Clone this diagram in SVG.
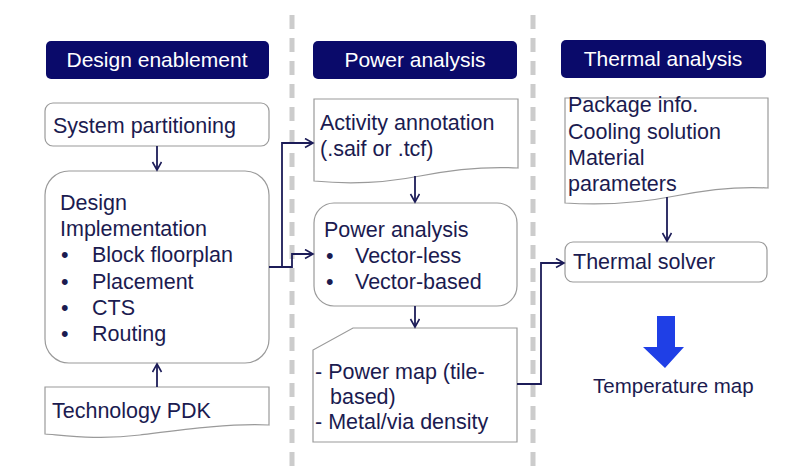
<svg xmlns="http://www.w3.org/2000/svg" width="795" height="472" viewBox="0 0 795 472">
<defs>
<marker id="arr" markerUnits="userSpaceOnUse" markerWidth="12" markerHeight="12" refX="9" refY="5" orient="auto">
<path d="M1,0.5 L9,5 L1,9.5" fill="none" stroke="#1c1c58" stroke-width="1.6"/>
</marker>
<style>
text{font-family:"Liberation Sans",Arial,sans-serif;font-size:21.5px;fill:#1b1b50}
.hdr{fill:#0a0a6a}
.htx{fill:#ffffff;font-size:21px;text-anchor:middle}
.box{fill:#ffffff;stroke:#9a9a9a;stroke-width:1.2}
.con{fill:none;stroke:#1c1c58;stroke-width:1.8}
.sep{stroke:#cccccc;stroke-width:5;stroke-dasharray:14 9}
</style>
</defs>
<rect width="795" height="472" fill="#ffffff"/>
<g id="separators">
<line class="sep" x1="292" y1="15" x2="292" y2="470"/>
<line class="sep" x1="533" y1="15" x2="533" y2="470"/>
</g>
<g id="hdr-design">
<rect class="hdr" x="46" y="41" width="223" height="38" rx="5"/>
<text class="htx" x="157" y="67">Design enablement</text>
</g>
<g id="hdr-power">
<rect class="hdr" x="313" y="41" width="204" height="38" rx="5"/>
<text class="htx" x="415" y="67">Power analysis</text>
</g>
<g id="hdr-thermal">
<rect class="hdr" x="561" y="40" width="205" height="38" rx="5"/>
<text class="htx" x="663" y="66">Thermal analysis</text>
</g>
<g id="sys-part">
<rect class="box" x="45" y="103" width="224" height="43" rx="8"/>
<text x="53" y="133">System partitioning</text>
</g>
<g id="design-impl">
<rect class="box" x="45" y="171" width="224" height="192" rx="24"/>
<text x="60" y="210">Design</text>
<text x="60" y="236">Implementation</text>
<text x="61" y="262">•</text><text x="92" y="262">Block floorplan</text>
<text x="61" y="289">•</text><text x="92" y="289">Placement</text>
<text x="61" y="315">•</text><text x="92" y="315">CTS</text>
<text x="61" y="341">•</text><text x="92" y="341">Routing</text>
</g>
<g id="tech-pdk">
<path class="box" d="M45,387 H269 V425 C230,423 180,430 140,435 C100,440 70,436 45,434 Z"/>
<text x="52" y="418">Technology PDK</text>
</g>
<g id="activity">
<path class="box" d="M314,99 H518 V168 C480,166 450,170 420,176 C380,184 345,184 314,181 Z"/>
<text x="320" y="130">Activity annotation</text>
<text x="320" y="156">(.saif or .tcf)</text>
</g>
<g id="power-analysis">
<rect class="box" x="314" y="203" width="203" height="103" rx="20"/>
<text x="324" y="237">Power analysis</text>
<text x="326" y="263">•</text><text x="355" y="263">Vector-less</text>
<text x="326" y="289">•</text><text x="355" y="289">Vector-based</text>
</g>
<g id="power-map">
<path class="box" d="M353,328 H517 V442 H313 V350 Z"/>
<text x="315" y="379">- Power map (tile-</text>
<text x="330" y="404">based)</text>
<text x="315" y="429">- Metal/via density</text>
</g>
<g id="package">
<path class="box" d="M565,98 H768 V188 C735,186 705,190 675,196 C630,205 595,205 565,203 Z"/>
<text x="568" y="112">Package info.</text>
<text x="568" y="139">Cooling solution</text>
<text x="568" y="165">Material</text>
<text x="568" y="191">parameters</text>
</g>
<g id="thermal-solver">
<rect class="box" x="565" y="242" width="202" height="40" rx="8"/>
<text x="573" y="269">Thermal solver</text>
</g>
<g id="temp-map">
<path d="M657,316 H675 V347 H684 L665,368 L643,347 H657 Z" fill="#1f3fe6"/>
<text x="593" y="393" style="font-size:20.5px">Temperature map</text>
</g>
<g id="connectors">
<line class="con" x1="157" y1="146" x2="157" y2="170" marker-end="url(#arr)"/>
<line class="con" x1="157" y1="387" x2="157" y2="364" marker-end="url(#arr)"/>
<polyline class="con" points="269,267 282,267 282,143 313,143" marker-end="url(#arr)"/>
<polyline class="con" points="282,267 292,267 292,254 313,254" marker-end="url(#arr)"/>
<line class="con" x1="415" y1="176" x2="415" y2="202" marker-end="url(#arr)"/>
<line class="con" x1="415" y1="306" x2="415" y2="327" marker-end="url(#arr)"/>
<polyline class="con" points="517,384 541,384 541,263 564,263" marker-end="url(#arr)"/>
<line class="con" x1="667" y1="197" x2="667" y2="241" marker-end="url(#arr)"/>
</g>
</svg>
